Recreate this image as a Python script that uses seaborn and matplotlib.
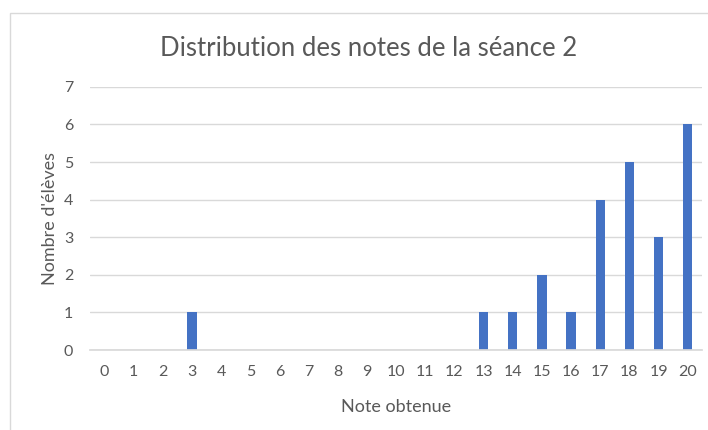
import matplotlib
matplotlib.use("Agg")
import matplotlib.pyplot as plt
import matplotlib.patches as mpatches
import pandas as pd
import seaborn as sns

# Data
notes = list(range(0, 21))
eleves = [0, 0, 0, 1, 0, 0, 0, 0, 0, 0, 0, 0, 0, 1, 1, 2, 1, 4, 5, 3, 6]
y_ticks = [0, 1, 2, 3, 4, 5, 6, 7]

TITLE = "Distribution des notes de la séance 2"
XLABEL = "Note obtenue"
YLABEL = "Nombre d'élèves"

BAR_COLOR = "#4472C4"
TEXT_COLOR = "#595959"
GRID_COLOR = "#D9D9D9"

df = pd.DataFrame({"note": [str(n) for n in notes], "eleves": eleves})

sns.set_theme(style="white")
plt.rcParams["font.family"] = ["Lato", "DejaVu Sans"]

fig = plt.figure(figsize=(7.08, 4.30), dpi=100)
ax = fig.add_axes([0.127, 0.186, 0.865, 0.612])

# chart area border
fig.patches.append(
    mpatches.Rectangle(
        (10 / 708, -0.05), 1.0, 1 - 13 / 430 + 0.05,
        transform=fig.transFigure, fill=False, edgecolor="#D9D9D9", linewidth=1.0,
    )
)

sns.barplot(
    data=df, x="note", y="eleves", order=[str(n) for n in notes],
    color=BAR_COLOR, saturation=1, width=0.32, linewidth=0, ax=ax,
)

ax.set_ylim(0, 7)
ax.set_yticks(y_ticks)
ax.set_xlim(-0.5, len(notes) - 0.5)
ax.yaxis.grid(True, color=GRID_COLOR, linewidth=1.0)
ax.set_axisbelow(True)
for side in ["top", "right", "left"]:
    ax.spines[side].set_visible(False)
ax.spines["bottom"].set_color(GRID_COLOR)
ax.tick_params(axis="both", length=0, colors=TEXT_COLOR, labelsize=11.5)
ax.tick_params(axis="x", pad=11)
ax.tick_params(axis="y", pad=12)

ax.set_xlabel(XLABEL, fontsize=13, color=TEXT_COLOR, labelpad=14)
ax.set_ylabel(YLABEL, fontsize=13, color=TEXT_COLOR, labelpad=4)
fig.text(0.52, 1 - 48 / 430, TITLE, ha="center", va="center",
         fontsize=18.5, color=TEXT_COLOR)

fig.savefig("out.png", dpi=100, facecolor="white")
